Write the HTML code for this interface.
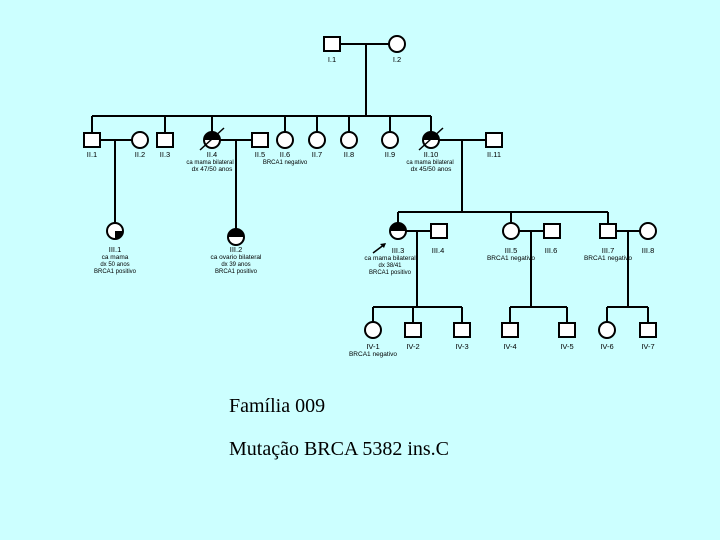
<!DOCTYPE html>
<html><head><meta charset="utf-8"><style>
html,body{margin:0;padding:0;background:#ccffff;}
svg{display:block}
</style></head><body>
<svg width="720" height="540" viewBox="0 0 720 540" xmlns="http://www.w3.org/2000/svg" font-family="Liberation Sans, sans-serif">
<rect width="720" height="540" fill="#ccffff"/>
<g stroke="#000" stroke-width="2" fill="none">
<line x1="340" y1="44" x2="389" y2="44"/>
<line x1="366" y1="44" x2="366" y2="116"/>
<line x1="92" y1="116" x2="431" y2="116"/>
<line x1="92" y1="116" x2="92" y2="133"/>
<line x1="165" y1="116" x2="165" y2="133"/>
<line x1="212" y1="116" x2="212" y2="133"/>
<line x1="285" y1="116" x2="285" y2="133"/>
<line x1="317" y1="116" x2="317" y2="133"/>
<line x1="349" y1="116" x2="349" y2="133"/>
<line x1="390" y1="116" x2="390" y2="133"/>
<line x1="431" y1="116" x2="431" y2="133"/>
<line x1="100" y1="140" x2="132" y2="140"/>
<line x1="115" y1="140" x2="115" y2="223"/>
<line x1="220" y1="140" x2="252" y2="140"/>
<line x1="236" y1="140" x2="236" y2="229"/>
<line x1="439" y1="140" x2="486" y2="140"/>
<line x1="462" y1="140" x2="462" y2="212"/>
<line x1="398" y1="212" x2="608" y2="212"/>
<line x1="398" y1="212" x2="398" y2="224"/>
<line x1="511" y1="212" x2="511" y2="224"/>
<line x1="608" y1="212" x2="608" y2="224"/>
<line x1="406" y1="231" x2="431" y2="231"/>
<line x1="417" y1="231" x2="417" y2="307"/>
<line x1="373" y1="307" x2="462" y2="307"/>
<line x1="373" y1="307" x2="373" y2="322"/>
<line x1="413" y1="307" x2="413" y2="322"/>
<line x1="462" y1="307" x2="462" y2="322"/>
<line x1="519" y1="231" x2="544" y2="231"/>
<line x1="531" y1="231" x2="531" y2="307"/>
<line x1="510" y1="307" x2="567" y2="307"/>
<line x1="510" y1="307" x2="510" y2="322"/>
<line x1="567" y1="307" x2="567" y2="322"/>
<line x1="616" y1="231" x2="640" y2="231"/>
<line x1="628" y1="231" x2="628" y2="307"/>
<line x1="607" y1="307" x2="648" y2="307"/>
<line x1="607" y1="307" x2="607" y2="322"/>
<line x1="648" y1="307" x2="648" y2="322"/>
</g>
<g stroke="#000" stroke-width="2" fill="#fff">
<rect x="324" y="37" width="16" height="14"/>
<circle cx="397" cy="44" r="8"/>
<rect x="84" y="133" width="16" height="14"/>
<circle cx="140" cy="140" r="8"/>
<rect x="157" y="133" width="16" height="14"/>
<circle cx="212" cy="140" r="8"/>
<rect x="252" y="133" width="16" height="14"/>
<circle cx="285" cy="140" r="8"/>
<circle cx="317" cy="140" r="8"/>
<circle cx="349" cy="140" r="8"/>
<circle cx="390" cy="140" r="8"/>
<circle cx="431" cy="140" r="8"/>
<rect x="486" y="133" width="16" height="14"/>
<circle cx="115" cy="231" r="8"/>
<circle cx="236" cy="237" r="8"/>
<circle cx="398" cy="231" r="8"/>
<rect x="431" y="224" width="16" height="14"/>
<circle cx="511" cy="231" r="8"/>
<rect x="544" y="224" width="16" height="14"/>
<rect x="600" y="224" width="16" height="14"/>
<circle cx="648" cy="231" r="8"/>
<circle cx="373" cy="330" r="8"/>
<rect x="405" y="323" width="16" height="14"/>
<rect x="454" y="323" width="16" height="14"/>
<rect x="502" y="323" width="16" height="14"/>
<rect x="559" y="323" width="16" height="14"/>
<circle cx="607" cy="330" r="8"/>
<rect x="640" y="323" width="16" height="14"/>
</g>
<g fill="#000" stroke="none">
<path d="M204,140 A8,8 0 0 1 220,140 Z"/>
<path d="M423,140 A8,8 0 0 1 439,140 Z"/>
<path d="M390,231 A8,8 0 0 1 406,231 Z"/>
<path d="M228,237 A8,8 0 0 1 244,237 Z"/>
<path d="M115,231 L123,231 A8,8 0 0 1 115,239 Z"/>
</g>
<g stroke="#000" stroke-width="1.5">
<line x1="200" y1="150" x2="224" y2="128"/>
<line x1="419" y1="150" x2="443" y2="128"/>
<line x1="373" y1="253" x2="385" y2="244"/>
</g>
<path d="M386,243 L380,244 L384,248 Z" fill="#000"/>
<g font-size="7.5" text-anchor="middle" fill="#000">
<text x="332" y="62">I.1</text><text x="397" y="62">I.2</text>
<text x="92" y="157">II.1</text><text x="140" y="157">II.2</text><text x="165" y="157">II.3</text>
<text x="212" y="157">II.4</text><text x="260" y="157">II.5</text><text x="285" y="157">II.6</text>
<text x="317" y="157">II.7</text><text x="349" y="157">II.8</text><text x="390" y="157">II.9</text>
<text x="431" y="157">II.10</text><text x="494" y="157">II.11</text>
<text x="210" y="164" font-size="6">ca mama bilateral</text>
<text x="212" y="171" font-size="6.5">dx 47/50 anos</text>
<text x="285" y="164" font-size="6">BRCA1 negativo</text>
<text x="430" y="164" font-size="6">ca mama bilateral</text>
<text x="431" y="171" font-size="6.5">dx 45/50 anos</text>
<text x="115" y="252">III.1</text>
<text x="115" y="259" font-size="6.5">ca mama</text>
<text x="115" y="266" font-size="6">dx 50 anos</text>
<text x="115" y="273" font-size="6">BRCA1 positivo</text>
<text x="236" y="252">III.2</text>
<text x="236" y="259" font-size="6.5">ca ovario bilateral</text>
<text x="236" y="266" font-size="6">dx 39 anos</text>
<text x="236" y="273" font-size="6">BRCA1 positivo</text>
<text x="398" y="253">III.3</text>
<text x="390" y="260" font-size="6.5">ca mama bilateral</text>
<text x="390" y="267" font-size="6">dx 38/41</text>
<text x="390" y="274" font-size="6">BRCA1 positivo</text>
<text x="438" y="253">III.4</text>
<text x="511" y="253">III.5</text>
<text x="511" y="260" font-size="6.5">BRCA1 negativo</text>
<text x="551" y="253">III.6</text>
<text x="608" y="253">III.7</text>
<text x="608" y="260" font-size="6.5">BRCA1 negativo</text>
<text x="648" y="253">III.8</text>
<text x="373" y="349">IV-1</text>
<text x="373" y="356" font-size="6.5">BRCA1 negativo</text>
<text x="413" y="349">IV-2</text><text x="462" y="349">IV-3</text>
<text x="510" y="349">IV-4</text><text x="567" y="349">IV-5</text>
<text x="607" y="349">IV-6</text><text x="648" y="349">IV-7</text>
</g>
<g font-family="Liberation Serif, serif" font-size="20" fill="#000">
<text x="229" y="412">Família 009</text>
<text x="229" y="455">Mutação BRCA 5382 ins.C</text>
</g>
</svg>
</body></html>
